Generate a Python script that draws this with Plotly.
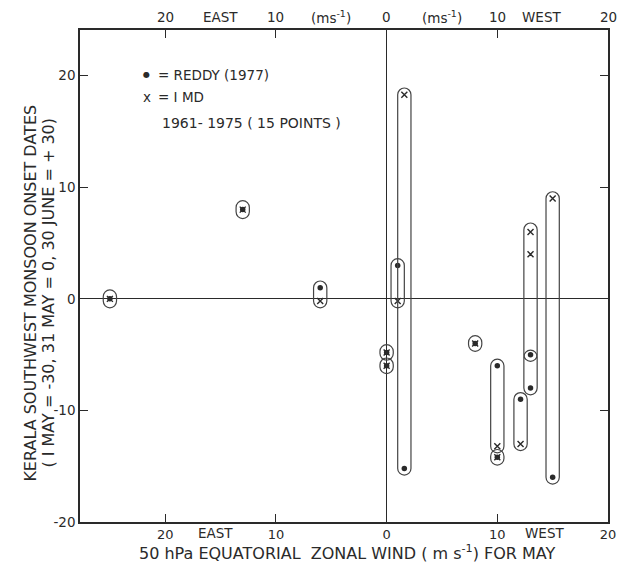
import plotly.graph_objects as go

# ---- data (wind: east negative, west positive, m/s) ----
wind = [-25, -13, -6, 0, 0, 1, 1.6, 8, 10, 10, 12.1, 13, 13, 15]
reddy = [0, 8, 1, -4.8, -6.0, 3, -15.2, -4, -6, -14.2, -9, -5, -8, -16]
imd = [0, 8, -0.2, -4.8, -6.0, -0.2, 18.3, -4, -13.2, -14.2, -13, 6, 4, 9]

# ovals drawn round each year's pair (x, low, high)
oval_x = [-25, -13, -6, 0, 0, 1, 1.6, 8, 10, 10, 12.1, 13, 13, 15]
oval_lo = [-0.2, 7.8, -0.2, -4.9, -6.1, -0.2, -15.2, -4.1, -13.2, -14.3, -13, -5, -8, -16]
oval_hi = [0.2, 8.2, 1, -4.7, -5.9, 3, 18.3, -3.9, -6, -14.1, -9, 6.2, -5.2, 9]

x_tickvals = [-20, -10, 0, 10, 20]
x_ticktext = ["20", "10", "0", "10", "20"]
y_tickvals = [-20, -10, 0, 10, 20]
y_ticktext = ["-20", "-10", "0", "10", "20"]

top_labels_x = [-20, -15, -10, -5, 0, 5, 10, 14, 20]
top_labels = ["20", "EAST", "10", "(ms<sup>-1</sup>)", "0", "(ms<sup>-1</sup>)", "10", "WEST", "20"]

y_title_lines = ["KERALA SOUTHWEST MONSOON ONSET DATES",
                 "( I MAY = -30, 31 MAY = 0, 30 JUNE = + 30)"]
x_title = "50 hPa EQUATORIAL  ZONAL WIND ( m s<sup>-1</sup>) FOR MAY"

INK = "#2a2a2a"
FONT = "DejaVu Sans"

fig = go.Figure()

fig.add_trace(go.Scatter(x=wind, y=reddy, mode="markers", name="REDDY (1977)",
                         marker=dict(symbol="circle", size=5.5, color=INK),
                         showlegend=False))
fig.add_trace(go.Scatter(x=wind, y=imd, mode="markers", name="IMD",
                         marker=dict(symbol="x-thin", size=6, line=dict(width=1.4, color=INK)),
                         showlegend=False))

c = 0.5523
r = 0.6
for x, y0, y1 in zip(oval_x, oval_lo, oval_hi):
    path = (f"M {x-r},{y0} L {x-r},{y1} "
            f"C {x-r},{y1+c*r} {x-c*r},{y1+r} {x},{y1+r} "
            f"C {x+c*r},{y1+r} {x+r},{y1+c*r} {x+r},{y1} "
            f"L {x+r},{y0} "
            f"C {x+r},{y0-c*r} {x+c*r},{y0-r} {x},{y0-r} "
            f"C {x-c*r},{y0-r} {x-r},{y0-c*r} {x-r},{y0} Z")
    fig.add_shape(type="path", path=path, xref="x", yref="y",
                  line=dict(color="#444", width=1.2))

annotations = []
for xv, t in zip(top_labels_x, top_labels):
    annotations.append(dict(x=xv, y=1.026, xref="x", yref="paper", text=t,
                            showarrow=False, font=dict(size=13.5, color=INK, family=FONT),
                            xanchor="center", yanchor="middle"))
annotations.append(dict(x=-15.5, y=-0.022, xref="x", yref="paper", text="EAST",
                        showarrow=False, font=dict(size=13.5, color=INK, family=FONT),
                        yanchor="middle"))
annotations.append(dict(x=14.3, y=-0.022, xref="x", yref="paper", text="WEST",
                        showarrow=False, font=dict(size=13.5, color=INK, family=FONT),
                        yanchor="middle"))
# legend block
annotations += [
    dict(x=0.126, y=0.909, xref="paper", yref="paper", text="●", showarrow=False,
         font=dict(size=8, color=INK, family=FONT), xanchor="center", yanchor="middle"),
    dict(x=0.143, y=0.909, xref="paper", yref="paper", text="= REDDY (1977)", showarrow=False,
         font=dict(size=13.5, color=INK, family=FONT), xanchor="left", yanchor="middle"),
    dict(x=0.126, y=0.864, xref="paper", yref="paper", text="x", showarrow=False,
         font=dict(size=13.5, color=INK, family=FONT), xanchor="center", yanchor="middle"),
    dict(x=0.143, y=0.864, xref="paper", yref="paper", text="= I MD", showarrow=False,
         font=dict(size=13.5, color=INK, family=FONT), xanchor="left", yanchor="middle"),
    dict(x=0.152, y=0.811, xref="paper", yref="paper", text="1961- 1975 ( 15 POINTS )",
         showarrow=False, font=dict(size=14, color=INK, family=FONT),
         xanchor="left", yanchor="middle"),
]
# axis titles (y title as two rotated lines)
for xp, line in zip([-0.093, -0.059], y_title_lines):
    annotations.append(dict(x=xp, y=0.466, xref="paper", yref="paper", text=line,
                            textangle=-90, showarrow=False,
                            font=dict(size=16, color=INK, family=FONT),
                            xanchor="center", yanchor="middle"))
annotations.append(dict(x=0.506, y=-0.063, xref="paper", yref="paper", text=x_title,
                        showarrow=False, font=dict(size=16, color=INK, family=FONT),
                        xanchor="center", yanchor="middle"))

fig.update_layout(
    width=626, height=571,
    margin=dict(l=80, r=10, t=30, b=49),
    paper_bgcolor="white", plot_bgcolor="white",
    font=dict(family=FONT, size=13, color=INK),
    annotations=annotations,
    showlegend=False,
)
fig.update_xaxes(range=[-27.7, 20.0], tickvals=x_tickvals, ticktext=x_ticktext,
                 ticks="inside", ticklen=8, tickwidth=1.3, tickcolor=INK,
                 showline=True, linecolor=INK, linewidth=1.5, mirror="ticks",
                 showgrid=False, zeroline=True, zerolinecolor=INK, zerolinewidth=1.2,
                 tickfont=dict(size=13, color=INK, family=FONT))
fig.update_yaxes(range=[-20, 24.1], tickvals=y_tickvals, ticktext=y_ticktext,
                 ticks="inside", ticklen=8, tickwidth=1.3, tickcolor=INK,
                 showline=True, linecolor=INK, linewidth=1.5, mirror="ticks",
                 showgrid=False, zeroline=True, zerolinecolor=INK, zerolinewidth=1.2,
                 tickfont=dict(size=13.5, color=INK, family=FONT))

fig.write_html("out.html", config={"displayModeBar": False},
               post_script="document.body.style.margin='0';document.body.style.overflow='hidden';")
